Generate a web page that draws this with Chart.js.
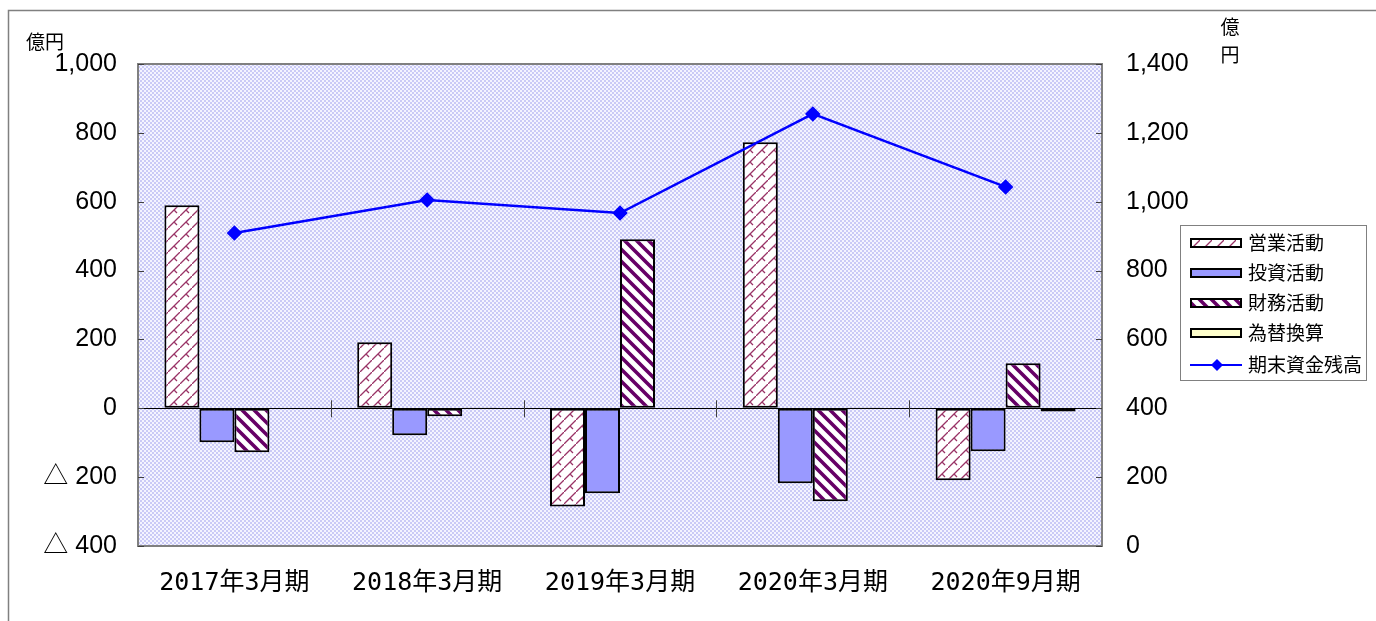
<!DOCTYPE html>
<html>
<head>
<meta charset="utf-8">
<script src="https://cdn.jsdelivr.net/npm/chart.js"></script>
<style>
  html, body { margin: 0; padding: 0; background: #fff; }
  #wrap { width: 1376px; height: 621px; }
</style>
</head>
<body>
<div id="wrap"><canvas id="cfChart" width="1376" height="621"></canvas></div>
<script>
// Data
var categories = ['2017年3月期', '2018年3月期', '2019年3月期', '2020年3月期', '2020年9月期'];
var operating = [590, 192, -285, 773, -209];     // 営業活動
var investing = [-99, -78, -247, -218, -125];    // 投資活動
var financing = [-128, -23, 491, -270, 131];     // 財務活動
var exchange = [-2, 1, -1, 2, -9];               // 為替換算
var cashBalance = [909, 1005, 967, 1255, 1043];  // 期末資金残高

var leftMin = -400, leftMax = 1000, leftStep = 200;
var rightMin = 0, rightMax = 1400, rightStep = 200;

var ctx = document.getElementById('cfChart').getContext('2d');

// small helper for canvas patterns
function makePattern(w, h, draw) {
    var c = document.createElement('canvas');
    c.width = w; c.height = h;
    draw(c.getContext('2d'));
    return ctx.createPattern(c, 'repeat');
}

var plotBg = makePattern(4, 4, function (g) {
    g.fillStyle = '#f4f4ff';
    g.fillRect(0, 0, 4, 4);
    g.fillStyle = '#cacaf6';
    g.fillRect(0, 0, 2, 2);
    g.fillRect(2, 2, 2, 2);
});

var operatingFill = makePattern(12, 12, function (g) {
    g.fillStyle = '#ffffff';
    g.fillRect(0, 0, 12, 12);
    g.strokeStyle = '#993366';
    g.lineWidth = 1.3;
    g.beginPath();
    g.moveTo(0, 12); g.lineTo(12, 0);
    g.moveTo(6, 6); g.lineTo(9, 9);
    g.stroke();
});

var financingFill = makePattern(12, 12, function (g) {
    g.fillStyle = '#ffffff';
    g.fillRect(0, 0, 12, 12);
    g.strokeStyle = '#660066';
    g.lineWidth = 3.6;
    g.beginPath();
    for (var k = -1; k <= 1; k++) {
        g.moveTo(k * 12 - 2, -2);
        g.lineTo(k * 12 + 14, 14);
    }
    g.stroke();
});

var tickFont = { family: '"Liberation Sans", "Noto Sans CJK JP", sans-serif', size: 25 };
var catFont = { family: '"DejaVu Sans Mono", "Noto Sans CJK JP", monospace', size: 25 };

// Plot background, borders, inside ticks, axis titles and legend
var decor = {
    id: 'decor',
    beforeDraw: function (chart) {
        var c = chart.ctx, a = chart.chartArea;
        c.save();
        c.strokeStyle = '#808080';
        c.lineWidth = 1.5;
        c.strokeRect(8.5, 10.5, 1500, 800);
        c.fillStyle = plotBg;
        c.fillRect(a.left, a.top, a.right - a.left, a.bottom - a.top);
        c.restore();
    },
    afterDraw: function (chart) {
        var c = chart.ctx, a = chart.chartArea;
        var y = chart.scales.y, y1 = chart.scales.y1, x = chart.scales.x;
        c.save();
        // plot border
        c.strokeStyle = '#808080';
        c.lineWidth = 2;
        c.strokeRect(a.left, a.top, a.right - a.left, a.bottom - a.top);

        // inside tick marks
        c.strokeStyle = '#404040';
        c.lineWidth = 1;
        c.beginPath();
        y.ticks.forEach(function (t) {
            var py = Math.round(y.getPixelForValue(t.value)) + 0.5;
            c.moveTo(a.left, py); c.lineTo(a.left + 6, py);
        });
        y1.ticks.forEach(function (t) {
            var py = Math.round(y1.getPixelForValue(t.value)) + 0.5;
            c.moveTo(a.right - 6, py); c.lineTo(a.right, py);
        });
        var zy = y.getPixelForValue(0);
        for (var i = 0; i < categories.length - 1; i++) {
            var px = Math.round((x.getPixelForValue(i) + x.getPixelForValue(i + 1)) / 2) + 0.5;
            c.moveTo(px, zy - 8); c.lineTo(px, zy + 9);
        }
        c.stroke();

        // axis unit titles
        c.fillStyle = '#000';
        c.font = '19px "Noto Sans CJK JP"';
        c.textBaseline = 'middle';
        c.textAlign = 'left';
        c.fillText('億円', 26, 42);
        c.textAlign = 'center';
        c.fillText('億', 1230, 27);
        c.fillText('円', 1230, 55);

        // legend
        c.strokeStyle = '#808080';
        c.lineWidth = 1;
        c.strokeRect(1180.5, 225.5, 186, 155);
        var rows = [243, 273, 303, 333, 365];
        c.font = '19px "Noto Sans CJK JP"';
        c.textAlign = 'left';
        chart.data.datasets.forEach(function (ds, k) {
            var ry = rows[k];
            if (ds.type === 'line') {
                c.strokeStyle = ds.borderColor;
                c.lineWidth = 2;
                c.beginPath();
                c.moveTo(1190, ry); c.lineTo(1242, ry);
                c.stroke();
                c.fillStyle = ds.borderColor;
                c.beginPath();
                c.moveTo(1217, ry - 6); c.lineTo(1223, ry);
                c.lineTo(1217, ry + 6); c.lineTo(1211, ry);
                c.closePath();
                c.fill();
            } else {
                c.fillStyle = ds.backgroundColor;
                c.fillRect(1191, ry - 4, 50, 8);
                c.strokeStyle = '#000';
                c.lineWidth = 2;
                c.strokeRect(1191, ry - 4, 50, 8);
            }
            c.fillStyle = '#000';
            c.fillText(ds.label, 1248, ry);
        });
        c.restore();
    }
};

var barCommon = {
    borderColor: '#000000',
    borderWidth: 2,
    borderSkipped: false,
    barPercentage: 1.0,
    categoryPercentage: 0.726,
    yAxisID: 'y',
    order: 1
};

var data = {
    labels: categories,
    datasets: [
        Object.assign({ type: 'bar', label: '営業活動', data: operating, backgroundColor: operatingFill }, barCommon),
        Object.assign({ type: 'bar', label: '投資活動', data: investing, backgroundColor: '#9999ff' }, barCommon),
        Object.assign({ type: 'bar', label: '財務活動', data: financing, backgroundColor: financingFill }, barCommon),
        Object.assign({ type: 'bar', label: '為替換算', data: exchange, backgroundColor: '#ffffcc' }, barCommon),
        {
            type: 'line',
            label: '期末資金残高',
            data: cashBalance,
            yAxisID: 'y1',
            borderColor: '#0000ff',
            backgroundColor: '#0000ff',
            borderWidth: 2.5,
            pointStyle: 'rectRot',
            pointRadius: 6,
            pointBackgroundColor: '#0000ff',
            pointBorderColor: '#0000ff',
            fill: false,
            tension: 0,
            order: 0
        }
    ]
};

var options = {
    responsive: false,
    animation: false,
    layout: {
        padding: { left: 0, right: 154, top: 64, bottom: 0 }
    },
    plugins: {
        legend: { display: false },
        tooltip: { enabled: false }
    },
    scales: {
        x: {
            offset: true,
            grid: { display: false, drawTicks: false },
            border: { display: false },
            ticks: { color: '#000', font: catFont, padding: 22, maxRotation: 0 },
            afterFit: function (s) { s.height = 75; }
        },
        y: {
            position: 'left',
            min: leftMin,
            max: leftMax,
            border: { display: false },
            grid: {
                drawTicks: false,
                color: function (c) { return c.tick && c.tick.value === 0 ? '#000000' : 'rgba(0,0,0,0)'; },
                lineWidth: 1
            },
            ticks: {
                stepSize: leftStep,
                color: '#000',
                font: tickFont,
                padding: 21,
                callback: function (v) {
                    return v < 0 ? '△ ' + Math.abs(v) : v.toLocaleString('en-US');
                }
            },
            afterFit: function (s) { s.width = 138; }
        },
        y1: {
            position: 'right',
            min: rightMin,
            max: rightMax,
            border: { display: false },
            grid: { display: false, drawTicks: false },
            ticks: {
                stepSize: rightStep,
                color: '#000',
                font: tickFont,
                padding: 24,
                callback: function (v) { return v.toLocaleString('en-US'); }
            },
            afterFit: function (s) { s.width = 120; }
        }
    }
};

var cfChart = new Chart(ctx, {
    data: data,
    options: options,
    plugins: [decor]
});
</script>
</body>
</html>
